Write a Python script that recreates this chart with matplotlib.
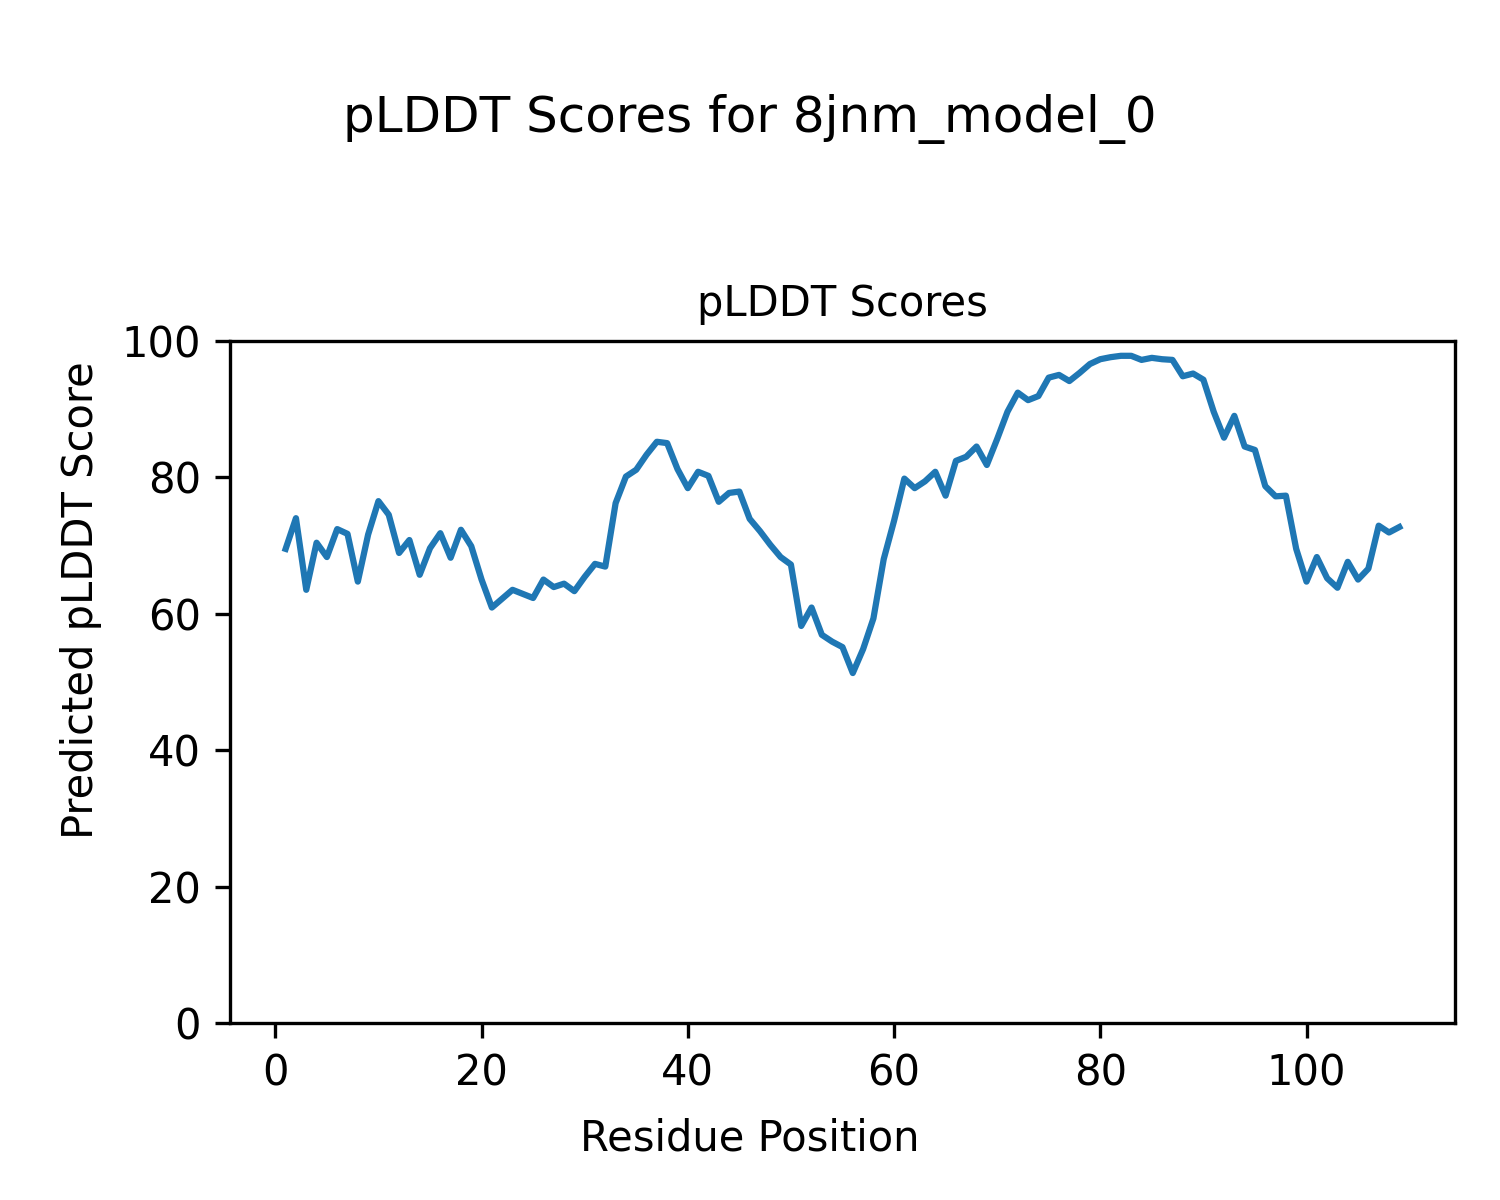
import matplotlib
matplotlib.use('Agg')
import matplotlib.pyplot as plt

residues = list(range(1, 110))
plddt = [69.5, 74.0, 63.5, 70.4, 68.3, 72.4, 71.7, 64.7, 71.6, 76.5,
         74.5, 68.9, 70.8, 65.7, 69.6, 71.8, 68.2, 72.3, 69.9, 65.0,
         60.9, 62.2, 63.5, 62.9, 62.3, 65.0, 63.9, 64.4, 63.3, 65.4,
         67.3, 66.9, 76.2, 80.1, 81.1, 83.3, 85.2, 85.0, 81.2, 78.4,
         80.8, 80.2, 76.4, 77.7, 77.9, 73.9, 72.1, 70.1, 68.3, 67.2,
         58.2, 60.9, 56.9, 55.9, 55.1, 51.3, 54.8, 59.3, 68.0, 73.6,
         79.8, 78.4, 79.4, 80.8, 77.3, 82.4, 83.0, 84.5, 81.8, 85.6,
         89.6, 92.4, 91.3, 91.9, 94.6, 95.0, 94.1, 95.3, 96.6, 97.3,
         97.6, 97.8, 97.8, 97.2, 97.5, 97.3, 97.2, 94.8, 95.2, 94.3,
         89.6, 85.8, 89.0, 84.5, 84.0, 78.7, 77.2, 77.3, 69.5, 64.7,
         68.3, 65.2, 63.8, 67.6, 65.0, 66.6, 72.9, 71.9, 72.7]

fig, ax = plt.subplots(figsize=(5, 4), dpi=300)
fig.subplots_adjust(left=0.1533, right=0.97, top=0.716, bottom=0.1475)
fig.suptitle('pLDDT Scores for 8jnm_model_0', fontsize=12, y=0.922)
ax.plot(residues, plddt, color='#1f77b4', linewidth=1.5)
ax.set_title('pLDDT Scores', fontsize=10)
ax.set_ylim(0, 100)
fig.supxlabel('Residue Position', fontsize=10, y=0.034)
fig.supylabel('Predicted pLDDT Score', fontsize=10, x=0.04)
fig.savefig('out.png', dpi=300)
